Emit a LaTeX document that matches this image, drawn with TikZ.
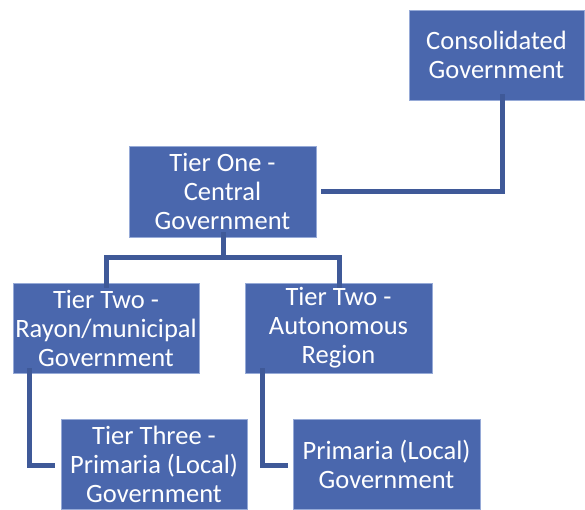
\documentclass[tikz,border=0pt]{standalone}
\usepackage{fontspec}
\setmainfont{Carlito}
\definecolor{boxblue}{RGB}{74,103,173}
\definecolor{linkblue}{RGB}{63,89,152}
\definecolor{edgeblue}{RGB}{150,170,215}
\begin{document}
\begin{tikzpicture}[x=1pt,y=-1pt,
  orgbox/.style={fill=boxblue,draw=edgeblue,line width=0.6pt,text=white,
    align=center,inner sep=0pt,font=\fontsize{26.5}{29}\selectfont,anchor=center},
  conn/.style={draw=linkblue,line width=5pt,line cap=butt,line join=miter}]
\useasboundingbox (0,0) rectangle (585,509);
% boxes: centre, width, height
\node[orgbox,minimum width=175,minimum height=90] (cons) at (496.5,55) {Consolidated\\Government};
\node[orgbox,minimum width=187,minimum height=91] (t1) at (222.5,191.5) {Tier One -\\Central\\Government};
\node[orgbox,minimum width=186,minimum height=90] (t2l) at (106,328) {Tier Two -\\Rayon/municipal\\Government};
\node[orgbox,minimum width=187,minimum height=90] (t2r) at (338.5,328) {Tier Two -\\Autonomous\\Region};
\node[orgbox,minimum width=186,minimum height=90] (t3) at (154,464) {Tier Three -\\Primaria (Local)\\Government};
\node[orgbox,minimum width=187,minimum height=90] (pr) at (386.5,464) {Primaria (Local)\\Government};
% connectors
\coordinate (bar) at (223,257);
\draw[conn] ([xshift=6,yshift=6]cons.south) |- ([xshift=5]t1.east);
\draw[conn] ([xshift=0.5,yshift=5]t1.south) -- (bar);
\draw[conn] ([yshift=-5]t2l.north) |- (bar) -| ([xshift=0.5,yshift=-5]t2r.north);
\draw[conn] ([xshift=-77,yshift=5]t2l.south) |- ([xshift=-6,yshift=-1]t3.west);
\draw[conn] ([xshift=-76.5,yshift=5]t2r.south) |- ([xshift=-5,yshift=-1]pr.west);
\end{tikzpicture}
\end{document}
